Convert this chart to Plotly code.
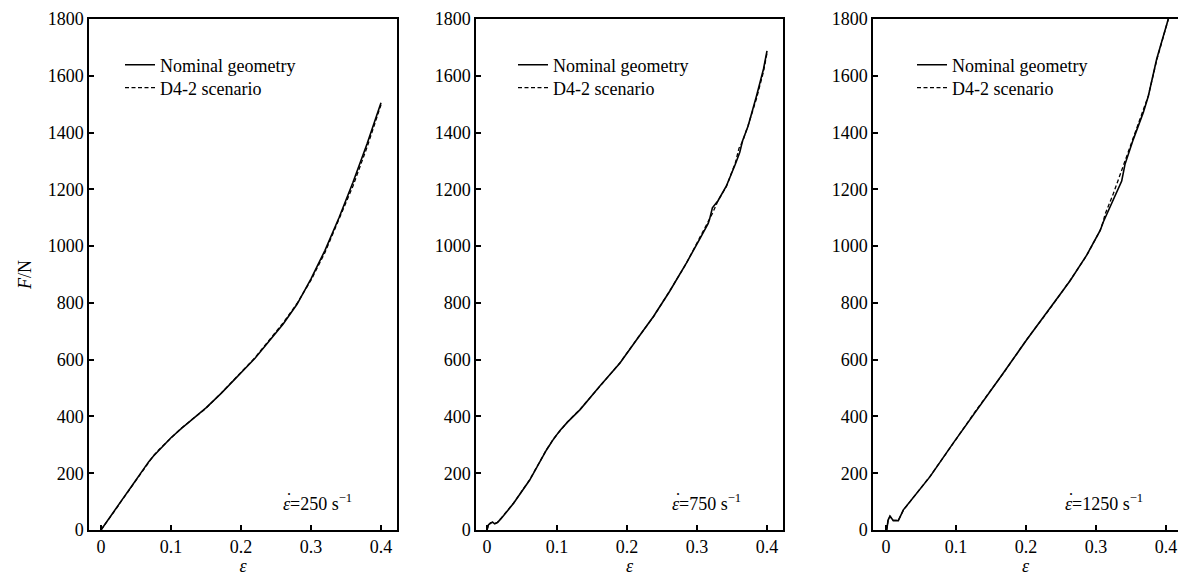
import plotly.graph_objects as go

W, H = 1178, 576

# ---------------- data ----------------
eps_250_nom = [0, 0.01, 0.02, 0.03, 0.042, 0.053, 0.06, 0.068, 0.075, 0.082, 0.09, 0.1, 0.115, 0.13,
               0.15, 0.172, 0.2, 0.22, 0.24, 0.26, 0.28, 0.3, 0.32, 0.34, 0.36, 0.38, 0.4]
F_250_nom = [0, 34, 70, 106, 148, 188, 213, 240, 261, 280, 300, 325, 358, 388,
             430, 482, 553, 605, 665, 725, 795, 885, 985, 1100, 1225, 1360, 1505]
eps_250_d4 = [0, 0.01, 0.02, 0.03, 0.042, 0.053, 0.06, 0.068, 0.075, 0.082, 0.09, 0.1, 0.115, 0.13,
              0.15, 0.172, 0.2, 0.22, 0.24, 0.26, 0.28, 0.3, 0.32, 0.34, 0.36, 0.38, 0.4]
F_250_d4 = [0, 33, 69, 105, 147, 189, 214, 241, 262, 281, 299, 324, 359, 389,
            429, 483, 554, 607, 668, 729, 798, 880, 978, 1092, 1212, 1348, 1498]

eps_750_nom = [0, 0.002, 0.005, 0.008, 0.011, 0.015, 0.02, 0.038, 0.061, 0.085, 0.095, 0.104, 0.115,
               0.133, 0.161, 0.19, 0.214, 0.238, 0.261, 0.285, 0.305, 0.316, 0.318, 0.322, 0.33,
               0.342, 0.355, 0.361, 0.365, 0.373, 0.385, 0.395, 0.4]
F_750_nom = [0, 18, 25, 28, 22, 26, 40, 94, 176, 282, 320, 350, 380,
             424, 506, 588, 671, 753, 841, 941, 1030, 1080, 1095, 1135, 1160,
             1212, 1290, 1330, 1370, 1423, 1529, 1624, 1688]
eps_750_d4 = [0, 0.002, 0.005, 0.008, 0.011, 0.015, 0.02, 0.038, 0.061, 0.085, 0.095, 0.104, 0.115,
              0.133, 0.161, 0.19, 0.214, 0.238, 0.261, 0.285, 0.305, 0.316, 0.322, 0.33,
              0.342, 0.355, 0.36, 0.365, 0.373, 0.385, 0.395, 0.4]
F_750_d4 = [0, 17, 24, 27, 23, 27, 41, 95, 177, 283, 321, 349, 381,
            425, 505, 589, 672, 752, 842, 940, 1035, 1085, 1115, 1160,
            1210, 1295, 1345, 1368, 1425, 1520, 1615, 1680]

eps_1250_nom = [0, 0.001, 0.003, 0.0057, 0.0104, 0.0176, 0.0248, 0.0629, 0.096, 0.1296, 0.1676,
                0.201, 0.234, 0.263, 0.2867, 0.306, 0.3104, 0.3367, 0.3414, 0.3533, 0.3676,
                0.3748, 0.3867, 0.396, 0.4033]
F_1250_nom = [0, 0, 35, 49, 33, 33, 71, 188, 306, 424, 553,
              670, 780, 878, 968, 1055, 1085, 1229, 1288, 1376, 1471,
              1529, 1659, 1741, 1800]
eps_1250_d4 = [0, 0.001, 0.003, 0.0057, 0.0104, 0.0176, 0.0248, 0.0629, 0.096, 0.1296, 0.1676,
               0.201, 0.234, 0.263, 0.2867, 0.306, 0.3104, 0.3129, 0.3248, 0.339, 0.3533,
               0.3676, 0.372, 0.3748, 0.3867, 0.396, 0.4033]
F_1250_d4 = [0, 0, 34, 48, 34, 34, 70, 189, 305, 425, 552,
             671, 779, 879, 967, 1056, 1087, 1112, 1185, 1282, 1378,
             1475, 1505, 1530, 1655, 1738, 1800]

rate_labels = ["250", "750", "1250"]
series_names = ["Nominal geometry", "D4-2 scenario"]
y_ticks = [0, 200, 400, 600, 800, 1000, 1200, 1400, 1600, 1800]
x_ticks = [0, 0.1, 0.2, 0.3, 0.4]
x_tick_text = ["0", "0.1", "0.2", "0.3", "0.4"]

panels = [
    (eps_250_nom, F_250_nom, eps_250_d4, F_250_d4),
    (eps_750_nom, F_750_nom, eps_750_d4, F_750_d4),
    (eps_1250_nom, F_1250_nom, eps_1250_d4, F_1250_d4),
]

# ---------------- layout geometry (pixels) ----------------
FONT = "Liberation Serif, Times New Roman, serif"
FS = 18
axis_left_px = [89, 476, 873]
axis_right_px = [397, 783, 1178]
x0_px = [101, 487, 886]      # pixel of eps = 0
px_per_unit = 700.0
top_px, bottom_px = 19, 530
legend_px = [120, 513, 912]
legend_rows_py = [65, 88]
rate_left_px = [281, 670, 1063]
rate_py = 502

fig = go.Figure()

for i, (ex_n, fy_n, ex_d, fy_d) in enumerate(panels):
    suf = "" if i == 0 else str(i + 1)
    leg_n = "legend" if i == 0 else f"legend{2 * i + 1}"
    leg_d = f"legend{2 * i + 2}"
    fig.add_trace(go.Scatter(x=ex_n, y=fy_n, mode="lines", name=series_names[0],
                             line=dict(color="black", width=1.6, dash="solid"),
                             xaxis="x" + suf, yaxis="y" + suf, legend=leg_n))
    fig.add_trace(go.Scatter(x=ex_d, y=fy_d, mode="lines", name=series_names[1],
                             line=dict(color="black", width=1.3, dash="4px,2.5px"),
                             xaxis="x" + suf, yaxis="y" + suf, legend=leg_d))

layout = dict(
    width=W, height=H,
    margin=dict(l=0, r=0, t=0, b=0),
    paper_bgcolor="white", plot_bgcolor="white",
    font=dict(family=FONT, size=FS, color="black"),
    showlegend=True,
    annotations=[],
)

for i in range(3):
    suf = "" if i == 0 else str(i + 1)
    left = axis_left_px[i]
    right = axis_right_px[i]
    xr = [(left - x0_px[i]) / px_per_unit, (right - x0_px[i]) / px_per_unit]
    layout["xaxis" + suf] = dict(
        domain=[left / W, right / W], anchor="y" + suf, range=xr,
        tickvals=x_ticks, ticktext=x_tick_text,
        ticks="inside", ticklen=5, tickwidth=1.5, tickcolor="black",
        showline=True, linecolor="black", linewidth=1.5, mirror=True,
        showgrid=False, zeroline=False, automargin=False,
        title=dict(text="<i>ε</i>", font=dict(size=FS), standoff=2),
        tickfont=dict(size=FS),
    )
    ydict = dict(
        domain=[1 - bottom_px / H, 1 - top_px / H], anchor="x" + suf, range=[0, 1800],
        tickvals=y_ticks, ticks="inside", ticklen=5, tickwidth=1.5, tickcolor="black",
        showline=True, linecolor="black", linewidth=1.5, mirror=(i < 2),
        showgrid=False, zeroline=False, automargin=False,
        tickfont=dict(size=FS),
    )
    if i == 0:
        ydict["title"] = dict(text="<i>F</i>/N", font=dict(size=FS), standoff=11)
    layout["yaxis" + suf] = ydict

    keys = ["legend" if i == 0 else f"legend{2 * i + 1}", f"legend{2 * i + 2}"]
    for k, py in zip(keys, legend_rows_py):
        layout[k] = dict(
            x=legend_px[i] / W, xanchor="left", y=1 - py / H, yanchor="middle",
            bgcolor="rgba(0,0,0,0)", borderwidth=0, font=dict(size=FS, family=FONT),
            itemwidth=30,
        )

    # strain-rate label: epsilon with a dot above
    layout["annotations"].append(dict(
        xref="paper", yref="paper", x=rate_left_px[i] / W, y=1 - rate_py / H,
        xanchor="left", yanchor="middle", showarrow=False,
        text=f"<i>ε</i>={rate_labels[i]} s<sup>−1</sup>", font=dict(size=FS, family=FONT),
    ))
    layout["annotations"].append(dict(
        xref="paper", yref="paper", x=(rate_left_px[i] + 7.5) / W, y=1 - (rate_py - 2) / H,
        xanchor="center", yanchor="middle", showarrow=False,
        text="˙", font=dict(size=FS, family=FONT),
    ))

fig.update_layout(**layout)
fig.write_html("out.html",
               config={"displayModeBar": False},
               post_script="document.body.style.margin='0';document.body.style.padding='0';"
                           "document.body.style.overflow='hidden';")
